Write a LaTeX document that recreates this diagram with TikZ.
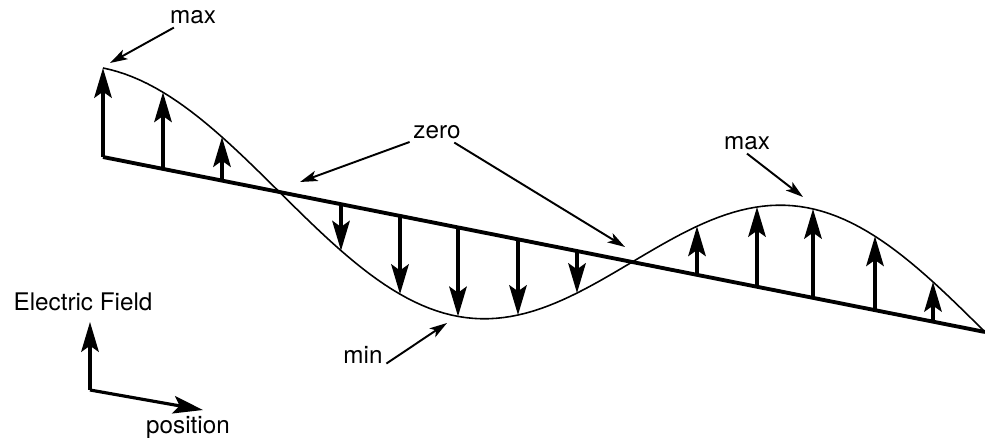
\documentclass[tikz,border=0pt]{standalone}
\usepackage{fontspec}
\setmainfont{TeX Gyre Heros}
\usepackage{tikz}
\usepackage{xcolor}
\usetikzlibrary{arrows.meta}

\tikzset{
  declare function={base(\t)=157+(\t-103)*0.1984; efield(\t)=base(\t)-89*cos((\t-103)/882*450);},
  lbl/.style={font=\fontsize{13.8}{16}\selectfont, inner sep=2pt},
  field/.style={line width=1.8pt, -{Stealth[length=17pt, width=10pt, inset=3.5pt]}},
  pointer/.style={line width=1.1pt, -{Stealth[length=10pt, width=6pt, inset=2.5pt]}},
  wave/.style={line width=0.9pt}
}

\begin{document}
\begin{tikzpicture}[x=0.02cm, y=-0.02cm]

\useasboundingbox (0,0) rectangle (985,438);

% axis and wave
\draw[line width=2.2pt] (103,{base(103)}) -- (985,{base(985)});
\draw[wave] plot[domain=103:985, samples=120] (\x,{efield(\x)});

% field vectors
\draw[field] (103,{base(103)}) -- (103,{efield(103)});
\draw[field] (163,{base(163)}) -- (163,{efield(163)});
\draw[field] (222,{base(222)}) -- (222,{efield(222)});

\draw[field] (341,{base(341)}) -- (341,{efield(341)});
\draw[field] (400,{base(400)}) -- (400,{efield(400)});
\draw[field] (458,{base(458)}) -- (458,{efield(458)});
\draw[field] (518,{base(518)}) -- (518,{efield(518)});
\draw[field] (577,{base(577)}) -- (577,{efield(577)});

\draw[field] (697,{base(697)}) -- (697,{efield(697)});
\draw[field] (757,{base(757)}) -- (757,{efield(757)});
\draw[field] (813,{base(813)}) -- (813,{efield(813)});
\draw[field] (875,{base(875)}) -- (875,{efield(875)});
\draw[field] (933,{base(933)}) -- (933,{efield(933)});

% labels
\node[lbl] (maxleft) at (193,17) {max};
\node[lbl] (zero) at (437,132) {zero};
\node[lbl] (maxright) at (747,143) {max};
\node[lbl] (min) at (363,355) {min};

\coordinate (maxleftpt) at (110,63);
\coordinate (zeroa) at (300,182);
\coordinate (zerob) at (625,247);
\coordinate (maxrightpt) at (803,197);
\coordinate (minpt) at (447,323);

\draw[pointer] (maxleft) -- (maxleftpt);
\draw[pointer] (zero) -- (zeroa);
\draw[pointer] (zero) -- (zerob);
\draw[pointer] (maxright.south) -- (maxrightpt);
\draw[pointer] (min.base east) -- (minpt);

% key
\node[lbl] (efield) at (83,302) {Electric Field};
\node[lbl] (pos) at (188,428) {position};
\coordinate (origin) at (90,390);
\coordinate (up) at (90,322);
\coordinate (right) at (203,410);
\draw[field] (origin) -- (up);
\draw[field] (origin) -- (right);

\end{tikzpicture}
\end{document}
